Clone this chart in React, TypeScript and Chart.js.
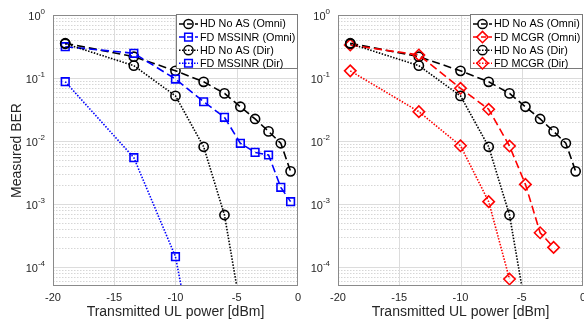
import React, { useEffect, useRef } from 'react';
import { Chart, registerables } from 'chart.js';

Chart.register(...registerables);

// ---------------- data ----------------
const powerAxis = [-19, -13.4, -10, -7.7, -6, -4.7, -3.5, -2.4, -1.4, -0.6];
const hdOmniBer = [0.356, 0.218, 0.13, 0.087, 0.057, 0.035, 0.0224, 0.0142, 0.0092, 0.0033];

const hdDirPower = [-19, -13.4, -10, -7.7, -6, -4.7];
const hdDirBer = [0.35, 0.157, 0.052, 0.0081, 0.00067, 0.000023];

const mssinrOmniPower = [-19, -13.4, -10, -7.7, -6, -4.7, -3.5, -2.4, -1.4, -0.6];
const mssinrOmniBer = [0.314, 0.247, 0.0964, 0.042, 0.0238, 0.0092, 0.0066, 0.006, 0.00184, 0.00109];

const mssinrDirPower = [-19, -13.4, -10, -7.7];
const mssinrDirBer = [0.0873, 0.00543, 0.000146, 0.0000007];

const mcgrOmniPower = [-19, -13.4, -10, -7.7, -6, -4.7, -3.5, -2.4];
const mcgrOmniBer = [0.334, 0.232, 0.0687, 0.0319, 0.00833, 0.00205, 0.00035, 0.000205];

const mcgrDirPower = [-19, -13.4, -10, -7.7, -6];
const mcgrDirBer = [0.13, 0.0292, 0.0084, 0.00109, 0.0000645];

const xTicks = [-20, -15, -10, -5, 0];
const yDecades = [0, -1, -2, -3, -4];
const Y_MIN = 5e-5;
const Y_MAX = 1;
const X_MIN = -20;
const X_MAX = 0;

const xTitle = 'Transmitted UL power [dBm]';
const yTitle = 'Measured BER';

const leftLabels = ['HD No AS (Omni)', 'FD MSSINR (Omni)', 'HD No AS (Dir)', 'FD MSSINR (Dir)'];
const rightLabels = ['HD No AS (Omni)', 'FD MCGR (Omni)', 'HD No AS (Dir)', 'FD MCGR (Dir)'];

// ---------------- styling ----------------
const FONT = "'Liberation Sans', Arial, Helvetica, sans-serif";
const TEXT = '#262626';
const DASH = [8, 4];
const DOT = [1.5, 1.5];

type Series = {
  label: string;
  xs: number[];
  ys: number[];
  color: string;
  dash: number[];
  marker: 'circle' | 'rect' | 'rectRot';
};

function markerRadius(m: string) {
  if (m === 'circle') return 4.6;
  if (m === 'rect') return 5.4;
  return 5.7;
}

function drawMarker(ctx: CanvasRenderingContext2D, m: string, x: number, y: number) {
  const r = markerRadius(m);
  ctx.beginPath();
  if (m === 'circle') {
    ctx.arc(x, y, r, 0, Math.PI * 2);
  } else if (m === 'rect') {
    const s = r * Math.SQRT1_2;
    ctx.rect(x - s, y - s, 2 * s, 2 * s);
  } else {
    ctx.moveTo(x - r, y);
    ctx.lineTo(x, y - r);
    ctx.lineTo(x + r, y);
    ctx.lineTo(x, y + r);
    ctx.closePath();
  }
  ctx.stroke();
}

function makeChart(
  canvas: HTMLCanvasElement,
  series: Series[],
  showYTitle: boolean,
  yAxisWidth: number,
  padRight: number
) {
  const framePlugin = {
    id: 'matlabFrame',
    beforeDatasetsDraw(chart: any) {
      const { ctx, chartArea: a, scales } = chart;
      ctx.save();
      ctx.lineWidth = 1;
      // minor y grid (dotted)
      ctx.setLineDash([1.5, 1.5]);
      ctx.strokeStyle = '#d6d6d6';
      for (let e = -5; e < 0; e++) {
        for (let m = 2; m <= 9; m++) {
          const v = m * Math.pow(10, e);
          if (v <= Y_MIN || v >= Y_MAX) continue;
          const py = Math.round(scales.y.getPixelForValue(v)) + 0.5;
          ctx.beginPath();
          ctx.moveTo(a.left, py);
          ctx.lineTo(a.right, py);
          ctx.stroke();
        }
      }
      ctx.setLineDash([]);
      ctx.strokeStyle = '#dcdcdc';
      for (const e of yDecades) {
        const v = Math.pow(10, e);
        if (v <= Y_MIN || v >= Y_MAX) continue;
        const py = Math.round(scales.y.getPixelForValue(v)) + 0.5;
        ctx.beginPath();
        ctx.moveTo(a.left, py);
        ctx.lineTo(a.right, py);
        ctx.stroke();
      }
      for (const t of xTicks) {
        if (t <= X_MIN || t >= X_MAX) continue;
        const px = Math.round(scales.x.getPixelForValue(t)) + 0.5;
        ctx.beginPath();
        ctx.moveTo(px, a.top);
        ctx.lineTo(px, a.bottom);
        ctx.stroke();
      }
      ctx.restore();
    },
    afterDatasetsDraw(chart: any) {
      const { ctx, chartArea: a } = chart;
      ctx.save();
      ctx.strokeStyle = '#8a8a8a';
      ctx.lineWidth = 1;
      ctx.strokeRect(Math.round(a.left) + 0.5, Math.round(a.top) + 0.5, Math.round(a.right - a.left) - 1, Math.round(a.bottom - a.top) - 1);
      ctx.restore();
    },
    afterDraw(chart: any) {
      const { ctx, chartArea: a, scales } = chart;
      ctx.save();
      // y tick labels with superscripts
      ctx.fillStyle = TEXT;
      ctx.textAlign = 'left';
      ctx.textBaseline = 'middle';
      for (const e of yDecades) {
        const py = scales.y.getPixelForValue(Math.pow(10, e));
        const exp = String(e);
        ctx.font = `8px ${FONT}`;
        const ew = ctx.measureText(exp).width;
        ctx.font = `11px ${FONT}`;
        const bw = ctx.measureText('10').width;
        const right = a.left - 8;
        ctx.fillText('10', right - ew - bw, py + 2);
        ctx.font = `8px ${FONT}`;
        ctx.fillText(exp, right - ew, py - 3.5);
      }
      // legend
      ctx.font = `10.8px ${FONT}`;
      let maxW = 0;
      for (const s of series) maxW = Math.max(maxW, ctx.measureText(s.label).width);
      const boxW = Math.round(24 + maxW + 3);
      const boxH = 55;
      const right = Math.round(a.right);
      const lx = right - boxW;
      const ly = Math.round(a.top) - 1;
      ctx.fillStyle = '#ffffff';
      ctx.fillRect(lx, ly, boxW, boxH);
      ctx.strokeStyle = '#7a7a7a';
      ctx.lineWidth = 1;
      ctx.strokeRect(lx + 0.5, ly + 0.5, boxW - 1, boxH - 1);
      series.forEach((s, i) => {
        const cy = ly + 10 + i * 13.1;
        ctx.strokeStyle = s.color;
        ctx.lineWidth = 1.5;
        ctx.setLineDash(s.dash === DOT ? DOT : [5, 3]);
        ctx.beginPath();
        ctx.moveTo(lx + 3, cy);
        ctx.lineTo(lx + 22, cy);
        ctx.stroke();
        ctx.setLineDash([]);
        drawMarker(ctx, s.marker, lx + 12.5, cy);
        ctx.fillStyle = '#000000';
        ctx.textBaseline = 'middle';
        ctx.textAlign = 'left';
        ctx.fillText(s.label, lx + 24, cy + 0.5);
      });
      ctx.restore();
    },
  };

  const n = series.length;
  const datasets = series.map((s, i) => ({
    label: s.label,
    data: s.xs.map((x, k) => ({ x, y: s.ys[k] })),
    borderColor: s.color,
    borderWidth: 1.6,
    borderDash: s.dash,
    pointStyle: s.marker,
    pointRadius: markerRadius(s.marker),
    pointBorderWidth: 1.6,
    pointBorderColor: s.color,
    pointBackgroundColor: 'rgba(0,0,0,0)',
    fill: false,
    tension: 0,
    clip: 0,
    order: n - i,
  }));

  return new Chart(canvas, {
    type: 'line',
    data: { datasets },
    plugins: [framePlugin],
    options: {
      animation: false,
      responsive: false,
      devicePixelRatio: 1,
      layout: { padding: { left: 0, top: 15, right: padRight, bottom: 0 } },
      plugins: {
        legend: { display: false },
        tooltip: { enabled: false },
      },
      events: [],
      scales: {
        x: {
          type: 'linear',
          min: X_MIN,
          max: X_MAX,
          grid: { display: false, drawTicks: false, tickLength: 0 },
          border: { display: false },
          ticks: {
            stepSize: 5,
            padding: 5,
            maxRotation: 0,
            autoSkip: false,
            color: TEXT,
            font: { family: FONT, size: 11 },
          },
          title: {
            display: true,
            text: xTitle,
            color: TEXT,
            font: { family: FONT, size: 14 },
            padding: { top: 0, bottom: 0 },
          },
          afterFit: (scale: any) => {
            scale.height = 35;
          },
        },
        y: {
          type: 'logarithmic',
          min: Y_MIN,
          max: Y_MAX,
          grid: { display: false, drawTicks: false, tickLength: 0 },
          border: { display: false },
          ticks: { display: false },
          title: {
            display: showYTitle,
            text: yTitle,
            color: TEXT,
            font: { family: FONT, size: 14 },
            padding: { top: 9, bottom: 0 },
          },
          afterFit: (scale: any) => {
            scale.width = yAxisWidth;
          },
        },
      },
    } as any,
  });
}

export default function App() {
  const leftRef = useRef<HTMLCanvasElement | null>(null);
  const rightRef = useRef<HTMLCanvasElement | null>(null);

  useEffect(() => {
    const leftSeries: Series[] = [
      { label: leftLabels[0], xs: powerAxis, ys: hdOmniBer, color: '#000000', dash: DASH, marker: 'circle' },
      { label: leftLabels[1], xs: mssinrOmniPower, ys: mssinrOmniBer, color: '#0000ff', dash: DASH, marker: 'rect' },
      { label: leftLabels[2], xs: hdDirPower, ys: hdDirBer, color: '#000000', dash: DOT, marker: 'circle' },
      { label: leftLabels[3], xs: mssinrDirPower, ys: mssinrDirBer, color: '#0000ff', dash: DOT, marker: 'rect' },
    ];
    const rightSeries: Series[] = [
      { label: rightLabels[0], xs: powerAxis, ys: hdOmniBer, color: '#000000', dash: DASH, marker: 'circle' },
      { label: rightLabels[1], xs: mcgrOmniPower, ys: mcgrOmniBer, color: '#ff0000', dash: DASH, marker: 'rectRot' },
      { label: rightLabels[2], xs: hdDirPower, ys: hdDirBer, color: '#000000', dash: DOT, marker: 'circle' },
      { label: rightLabels[3], xs: mcgrDirPower, ys: mcgrDirBer, color: '#ff0000', dash: DOT, marker: 'rectRot' },
    ];
    const c1 = makeChart(leftRef.current as HTMLCanvasElement, leftSeries, true, 53, 6);
    const c2 = makeChart(rightRef.current as HTMLCanvasElement, rightSeries, false, 32, 11);
    return () => {
      c1.destroy();
      c2.destroy();
    };
  }, []);

  return (
    <div
      style={{
        position: 'absolute',
        left: 0,
        top: 0,
        width: 584,
        height: 321,
        overflow: 'hidden',
        background: '#ffffff',
      }}
    >
      <canvas
        ref={leftRef}
        width={306}
        height={321}
        style={{ position: 'absolute', left: 0, top: 0, width: 306, height: 321 }}
      />
      <canvas
        ref={rightRef}
        width={288}
        height={321}
        style={{ position: 'absolute', left: 306, top: 0, width: 288, height: 321 }}
      />
    </div>
  );
}
